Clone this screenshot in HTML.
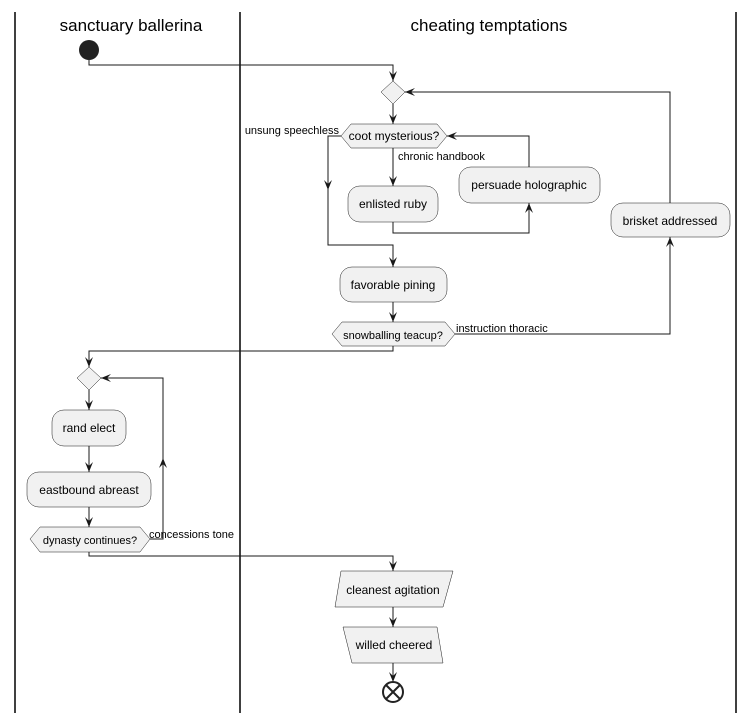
<!DOCTYPE html>
<html><head><meta charset="utf-8"><style>
html,body{margin:0;padding:0;background:#fff;}
svg{display:block;}
text{font-family:"Liberation Sans",sans-serif;fill:#000;}
</style></head><body>
<svg width="752" height="713" viewBox="0 0 752 713" xmlns="http://www.w3.org/2000/svg">
<!-- lanes -->
<g stroke="#000" stroke-width="1.5">
<line x1="15" y1="12" x2="15" y2="713"/>
<line x1="240" y1="12" x2="240" y2="713"/>
<line x1="736" y1="12" x2="736" y2="713"/>
</g>
<text x="131" y="31" font-size="17" text-anchor="middle">sanctuary ballerina</text>
<text x="489" y="31" font-size="17" text-anchor="middle">cheating temptations</text>

<!-- start -->
<circle cx="89" cy="50" r="10" fill="#222"/>

<!-- edges -->
<g stroke="#181818" stroke-width="1" fill="none">
<polyline points="89,60 89,65 393,65 393,81"/>
<line x1="393" y1="104" x2="393" y2="124"/>
<polyline points="341,136 328,136 328,245 393,245 393,267"/>
<line x1="393" y1="148" x2="393" y2="186"/>
<polyline points="393,222 393,233 529,233 529,203"/>
<polyline points="529,167 529,136 447,136"/>
<polyline points="670,203 670,92 405,92"/>
<line x1="393" y1="302" x2="393" y2="322"/>
<polyline points="455,334 670,334 670,237"/>
<polyline points="393,346 393,351 89,351 89,367"/>
<line x1="89" y1="390" x2="89" y2="410"/>
<line x1="89" y1="446" x2="89" y2="472"/>
<line x1="89" y1="507" x2="89" y2="527"/>
<polyline points="150,539 163,539 163,378 101,378"/>
<polyline points="89,552 89,556 393,556 393,571"/>
<line x1="393" y1="607" x2="393" y2="627"/>
<line x1="393" y1="663" x2="393" y2="682"/>
</g>

<!-- arrowheads -->
<g fill="#181818">
<polygon points="389,71 393,81 397,71 393,75"/>
<polygon points="389,114 393,124 397,114 393,118"/>
<polygon points="389,176 393,186 397,176 393,180"/>
<polygon points="324,180 328,190 332,180 328,184"/>
<polygon points="389,257 393,267 397,257 393,261"/>
<polygon points="389,312 393,322 397,312 393,316"/>
<polygon points="85,357 89,367 93,357 89,361"/>
<polygon points="85,400 89,410 93,400 89,404"/>
<polygon points="85,462 89,472 93,462 89,466"/>
<polygon points="85,517 89,527 93,517 89,521"/>
<polygon points="389,561 393,571 397,561 393,565"/>
<polygon points="389,617 393,627 397,617 393,621"/>
<polygon points="389,672 393,682 397,672 393,676"/>
<polygon points="525,213 529,203 533,213 529,209"/>
<polygon points="666,247 670,237 674,247 670,243"/>
<polygon points="159,468 163,458 167,468 163,464"/>
<polygon points="457,132 447,136 457,140 453,136"/>
<polygon points="415,88 405,92 415,96 411,92"/>
<polygon points="111,374 101,378 111,382 107,378"/>
</g>

<!-- nodes -->
<g fill="#F1F1F1" stroke="#181818" stroke-width="0.5">
<polygon points="393,81 405,92 393,104 381,92"/>
<polygon points="341,136 351,124 437,124 447,136 437,148 351,148"/>
<rect x="348" y="186" width="90" height="36" rx="12"/>
<rect x="459" y="167" width="141" height="36" rx="12"/>
<rect x="611" y="203" width="119" height="34" rx="12"/>
<rect x="340" y="267" width="107" height="35" rx="12"/>
<polygon points="332,334 342,322 445,322 455,334 445,346 342,346"/>
<polygon points="89,367 101,378 89,390 77,378"/>
<rect x="52" y="410" width="74" height="36" rx="12"/>
<rect x="27" y="472" width="124" height="35" rx="12"/>
<polygon points="30,539 40,527 140,527 150,539 140,552 40,552"/>
<polygon points="341,571 453,571 443,607 335,607"/>
<polygon points="343,627 437,627 443,663 352,663"/>
</g>

<!-- end -->
<circle cx="393" cy="692" r="10" fill="#fff" stroke="#222" stroke-width="2"/>
<g stroke="#222" stroke-width="2">
<line x1="386" y1="685" x2="400" y2="699"/>
<line x1="400" y1="685" x2="386" y2="699"/>
</g>

<!-- labels -->
<g font-size="12" text-anchor="middle">
<text x="394" y="140">coot mysterious?</text>
<text x="393" y="208">enlisted ruby</text>
<text x="529" y="189">persuade holographic</text>
<text x="670" y="225">brisket addressed</text>
<text x="393" y="289">favorable pining</text>
<text x="393" y="339" font-size="11">snowballing teacup?</text>
<text x="89" y="432">rand elect</text>
<text x="89" y="494">eastbound abreast</text>
<text x="90" y="544" font-size="11">dynasty continues?</text>
<text x="393" y="594">cleanest agitation</text>
<text x="394" y="649">willed cheered</text>
</g>
<g font-size="11">
<text x="339" y="134" text-anchor="end">unsung speechless</text>
<text x="398" y="160">chronic handbook</text>
<text x="456" y="332">instruction thoracic</text>
<text x="149" y="538">concessions tone</text>
</g>
</svg>
</body></html>
